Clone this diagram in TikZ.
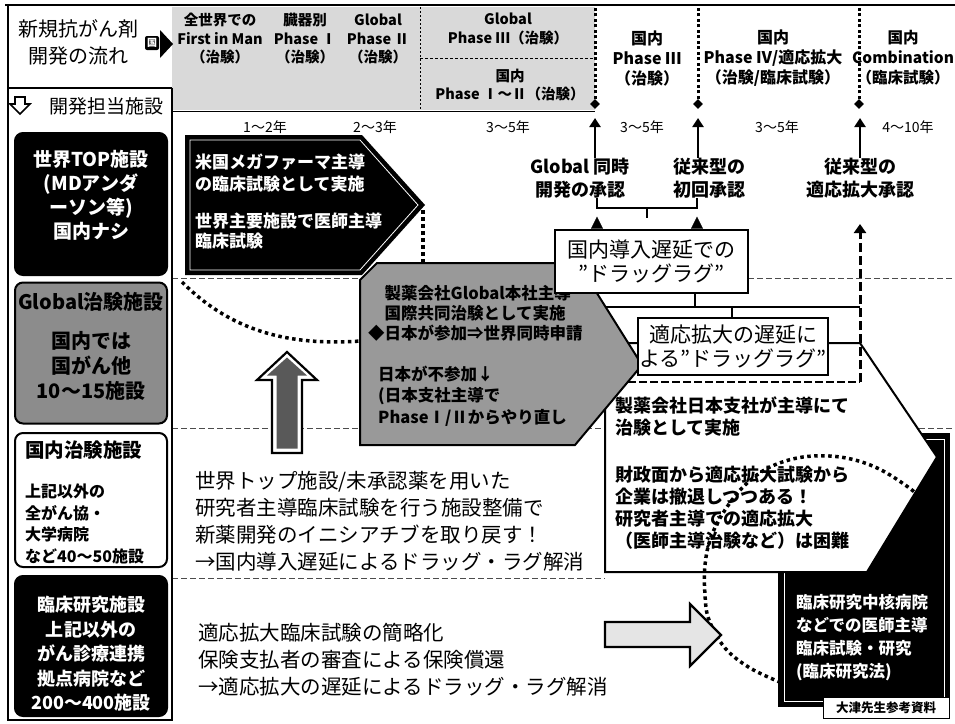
\documentclass[tikz,border=0pt]{standalone}
\usepackage{fontspec}
\setmainfont{Noto Sans CJK JP}
\usetikzlibrary{arrows.meta,shapes.geometric}
\begin{document}
\begin{tikzpicture}[x=1pt,y=-1pt,
  every node/.style={inner sep=0pt},
  hdrL/.style={font=\fontsize{14.5}{18.5}\selectfont\bfseries, align=center},
  hdrR/.style={font=\fontsize{16}{20}\selectfont\bfseries, align=center},
  yr/.style={font=\fontsize{14}{16}\selectfont},
  appr/.style={font=\fontsize{18}{23}\selectfont\bfseries, align=center},
  lagbox/.style={draw, line width=1.6pt, fill=white, font=\fontsize{21}{24}\selectfont, align=center},
  upar/.style={line width=2.8pt, -{Triangle[length=9pt,width=11pt]}},
  smallhead/.style={line width=0.1pt, -{Triangle[length=12pt,width=12pt]}},
  bigdots/.style={line width=3.5pt, dash pattern=on 3.5pt off 3.5pt},
  vdots/.style={line width=3pt, dash pattern=on 3pt off 2.5pt},
  sepline/.style={line width=0.8pt, dash pattern=on 6pt off 3pt, black!70},
  sidebox/.style={draw, rounded corners=8pt, line width=2pt},
  wtxt/.style={text=white, font=\fontsize{18}{24}\selectfont\bfseries, align=center},
  gtxt/.style={font=\fontsize{16.5}{20}\selectfont\bfseries, align=left},
  ptxt/.style={font=\fontsize{18}{22.5}\selectfont\bfseries, align=left},
  body/.style={font=\fontsize{20.5}{27}\selectfont, align=left},
  dmd/.style={diamond, fill=black, minimum size=10pt},
  hollow/.style={line width=2.2pt, line join=miter},
]
\useasboundingbox (0,0) rectangle (955,723);
\fill[white] (0,0) rectangle (955,723);

% ---------- separators ----------
\draw[sepline] (172,278) -- (955,278);
\draw[sepline] (172,428) -- (955,428);
\draw[sepline] (172,578) -- (605,578);

% ---------- header band ----------
\fill[black!15] (172,7) rectangle (595,110);
\draw[line width=0.7pt, dash pattern=on 2pt off 2pt] (420,7) -- (420,110);
\draw[line width=0.8pt, dash pattern=on 3pt off 2pt] (420,58) -- (595,58);
\draw[line width=1pt] (172,111) -- (595,111);

% frame
\draw[line width=2pt] (5,5) -- (955,5);
\draw[line width=2pt] (8,5) -- (8,720) -- (172,720) -- (172,88);
\draw[line width=2pt] (8,88) -- (172,88);

% title
\node[font=\fontsize{20}{27}\selectfont, align=center] (title) at (78,42) {新規抗がん剤\\開発の流れ};
\node[fill=black, rounded corners=2pt, text=white, font=\fontsize{10}{10}\selectfont\bfseries, minimum size=14pt] (icon) at (152,43) {国};
\fill (160,30) -- (173,44) -- (160,58) -- cycle;

% facility header
\draw[line width=1.6pt, line join=miter] (15,97) -- (25,97) -- (25,104) -- (30,104) -- (20,114) -- (10,104) -- (15,104) -- cycle;
\node[font=\fontsize{19}{20}\selectfont] (dev) at (106,106) {開発担当施設};

% header texts
\node[hdrL] (h1) at (220,39) {全世界での\\First in Man\\（治験）};
\node[hdrL] (h2) at (305,39) {臓器別\\Phase Ⅰ\\（治験）};
\node[hdrL] (h3) at (378,39) {Global\\Phase Ⅱ\\（治験）};
\node[hdrL] (h4) at (508,29) {Global\\Phase Ⅲ（治験）};
\node[hdrL] (h5) at (510,85) {国内\\Phase Ⅰ〜Ⅱ（治験）};
\node[hdrR] (r1) at (647,58) {国内\\Phase Ⅲ\\（治験）};
\node[hdrR] (r2) at (773,58) {国内\\Phase Ⅳ/適応拡大\\（治験/臨床試験）};
\node[hdrR, font=\fontsize{15.5}{20}\selectfont\bfseries] (r3) at (903,58) {国内\\Combination\\（臨床試験）};

% vertical dotted dividers
\coordinate (top) at (0,6);
\node[dmd] (dA) at (595,104) {};
\node[dmd] (dB) at (698,104) {};
\node[dmd] (dC) at (859,104) {};
\draw[vdots] (dA.north) -- (dA |- top);
\draw[vdots] (dB.north) -- (dB |- top);
\draw[vdots] (dC.north) -- (dC |- top);

% years
\node[yr] (y1) at (265,127) {1〜2年};
\node[yr] (y2) at (375,127) {2〜3年};
\node[yr] (y3) at (508,127) {3〜5年};
\node[yr] (y4) at (642,127) {3〜5年};
\node[yr] (y5) at (777,127) {3〜5年};
\node[yr] (y6) at (908,127) {4〜10年};

% approvals
\node[appr] (apprA) at (580,178) {Global 同時\\開発の承認};
\node[appr] (apprB) at (709,178) {従来型の\\初回承認};
\node[appr] (apprC) at (860,178) {従来型の\\適応拡大承認};
\coordinate (tA) at (595,118);
\coordinate (tB) at (698,118);
\coordinate (tC) at (860,118);
\draw[upar] (tA |- apprA.north) -- (tA);
\draw[upar] (tB |- apprB.north) -- (tB);
\draw[upar] (tC |- apprC.north) -- (tC);

% ---------- sidebar boxes ----------
\node[sidebox, fill=black, minimum width=152pt, minimum height=142pt] (boxA) at (91,204) {};
\node[wtxt, font=\fontsize{19}{24}\selectfont\bfseries] (boxAt) at (91,195) {世界TOP施設\\(MDアンダ\\ーソン等)\\国内ナシ};

\node[sidebox, fill=black!45, minimum width=152pt, minimum height=141pt] (boxB) at (91,353) {};
\node[font=\fontsize{20}{25}\selectfont\bfseries] (boxBh) at (91,302) {Global治験施設};
\node[font=\fontsize{20}{25}\selectfont\bfseries, align=center] (boxBt) at (91,366) {国内では\\国がん他\\10〜15施設};

\node[sidebox, fill=white, minimum width=152pt, minimum height=134pt] (boxC) at (91,500) {};
\node[font=\fontsize{19.5}{21}\selectfont\bfseries, anchor=west] (boxCh) at (25,450) {国内治験施設};
\node[font=\fontsize{16}{21.5}\selectfont\bfseries, align=left, anchor=west] (boxCt) at (25,524) {上記以外の\\全がん協・\\大学病院\\など40〜50施設};

\node[sidebox, fill=black, minimum width=152pt, minimum height=140pt] (boxD) at (91,646) {};
\node[wtxt, font=\fontsize{18}{24.5}\selectfont\bfseries] (boxDt) at (91,654) {臨床研究施設\\上記以外の\\がん診療連携\\拠点病院など\\200〜400施設};

% ---------- dotted flow curve (top left) ----------
\draw[bigdots] (182,282) .. controls (232,332) and (292,348) .. (372,340);
\coordinate (vTop) at (423,210);
\coordinate (vBot) at (423,266);
\draw[bigdots] (vTop) -- (vBot);

% ---------- black pentagon ----------
\fill[black] (185,135) -- (362,135) -- (425,205) -- (362,275) -- (185,275) -- cycle;
\draw[white, line width=0.8pt] (190,140) -- (360,140) -- (418,205) -- (360,270) -- (190,270) -- cycle;
\node[text=white, font=\fontsize{17}{22}\selectfont\bfseries, align=left, anchor=west] (bp1) at (195,173) {米国メガファーマ主導\\の臨床試験として実施};
\node[text=white, font=\fontsize{17}{20}\selectfont\bfseries, align=left, anchor=west] (bp2) at (195,231) {世界主要施設で医師主導\\臨床試験};

% ---------- bottom-right black block ----------
\fill[black] (778,433) rectangle (950,707);
\draw[white, line width=0.8pt] (784,439) rectangle (944,701);

% ---------- white pentagon ----------
\draw[line width=2pt, fill=white, line join=miter] (605,343) -- (860,343) -- (937,457) -- (867,572) -- (605,572) -- cycle;
\node[ptxt, anchor=west] (wp1) at (615,416.5) {製薬会社日本支社が主導にて\\治験として実施};
\node[ptxt, font=\fontsize{18}{22}\selectfont\bfseries, anchor=west] (wp2) at (615,508) {財政面から適応拡大試験から\\企業は撤退しつつある！\\研究者主導での適応拡大\\（医師主導治験など）は困難};

% dotted flow curve (bottom right)
\draw[bigdots] plot[smooth, tension=0.6] coordinates {(935,510) (908,487) (875,467) (840,457) (803,457) (770,467) (745,485) (725,510) (711,537) (705,565) (705,595) (709,620) (725,648) (750,668) (782,683)};

\node[text=white, font=\fontsize{16.5}{23}\selectfont\bfseries, align=left] (bbt) at (862,638) {臨床研究中核病院\\などでの医師主導\\臨床試験・研究\\(臨床研究法)};
\node[draw, fill=white, line width=1pt, minimum width=126pt, minimum height=21pt, font=\fontsize{12.5}{13}\selectfont\bfseries] (src) at (886,707.5) {大津先生参考資料};

% ---------- gray pentagon ----------
\draw[line width=2pt, fill=black!40, line join=miter] (360,280) -- (377,263) -- (578,263) -- (642,365) -- (575,445) -- (360,445) -- cycle;
\node[gtxt, anchor=west] (gp1) at (368,313) {\phantom{◆}製薬会社Global本社主導\\\phantom{◆}国際共同治験として実施\\◆日本が参加⇒世界同時申請};
\node[gtxt, font=\fontsize{16.5}{21.5}\selectfont\bfseries, anchor=west] (gp2) at (378,396) {日本が不参加↓\\(日本支社主導で\\PhaseⅠ/Ⅱからやり直し};

% ---------- connectors between lag boxes ----------
\coordinate (jA) at (695,307);
\coordinate (jB) at (732,307);
\coordinate (hL) at (606,307);
\coordinate (hR) at (860,307);
\draw[line width=1.8pt] (hL) -- (hR);
\coordinate (dashL) at (628,382);
\coordinate (wpTR) at (860,382);
\coordinate (dTip) at (860,224);
\draw[line width=2.5pt, dash pattern=on 8pt off 3pt] (dashL) -- (wpTR);
\draw[line width=3pt, dash pattern=on 9pt off 4pt, -{Triangle[length=9pt,width=12pt]}] (wpTR) -- (dTip);

\node[lagbox, minimum width=193pt, minimum height=63pt] (lag1) at (651.5,261.5) {国内導入遅延での\\”ドラッグラグ”};
\node[lagbox, minimum width=190pt, minimum height=57pt] (lag2) at (733,346.5) {適応拡大の遅延に\\よる”ドラッグラグ”};
\draw[line width=1.8pt] (lag1.south -| jA) -- (jA);
\draw[line width=1.8pt] (jB) -- (lag2.north -| jB);

% bracket + small heads
\coordinate (bL) at (597,208);
\coordinate (bR) at (697,208);
\coordinate (bM) at (647,208);
\draw[line width=1.8pt] (bL |- apprA.south) -- (bL) -- (bR) -- (bR |- apprB.south);
\draw[line width=1.8pt] (bM) -- ++(0,10);
\draw[smallhead] (lag1.north -| bL) -- ++(0,-12.5);
\draw[smallhead] (lag1.north -| bR) -- ++(0,-12.5);

% ---------- hollow arrows ----------
\draw[hollow, fill=white] (272,453) -- (272,380) -- (257,380) -- (287,352) -- (317,380) -- (302,380) -- (302,453) -- cycle;
\fill[black!65] (276.5,448.5) -- (276.5,375.5) -- (267,375.5) -- (287,357.5) -- (307,375.5) -- (297.5,375.5) -- (297.5,448.5) -- cycle;
\draw[hollow, fill=black!10] (605,622) -- (690,622) -- (690,604) -- (721,635) -- (690,666) -- (690,647) -- (605,647) -- cycle;

% ---------- body texts ----------
\node[body, anchor=west] (msg1) at (195,521.5) {世界トップ施設/未承認薬を用いた\\研究者主導臨床試験を行う施設整備で\\新薬開発のイニシアチブを取り戻す！\\→国内導入遅延によるドラッグ・ラグ解消};
\node[body, anchor=west] (msg2) at (198,660) {適応拡大臨床試験の簡略化\\保険支払者の審査による保険償還\\→適応拡大の遅延によるドラッグ・ラグ解消};
\end{tikzpicture}
\end{document}
